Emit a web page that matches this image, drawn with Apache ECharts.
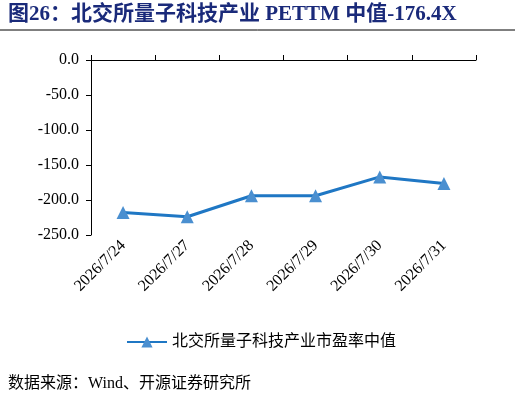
<!DOCTYPE html><html><head><meta charset="utf-8"><script src="https://cdn.jsdelivr.net/npm/echarts@6/dist/echarts.min.js"></script></head><body style="margin:0"><div id="c" style="width:522px;height:404px"></div><script>
const categories=['2026/7/24','2026/7/27','2026/7/28','2026/7/29','2026/7/30','2026/7/31'];
const values=[-218,-224,-194,-194,-167,-176.4];
const yTicks=[0,-50,-100,-150,-200,-250];
const ser="'Liberation Serif','Noto Sans CJK SC',serif";
const c=echarts.init(document.getElementById('c'));
c.setOption({animation:false,
graphic:[
{type:'text',left:8,top:4,style:{text:'图26：北交所量子科技产业 PETTM 中值-176.4X',font:"bold 21px 'Liberation Serif','Noto Sans CJK SC',serif",fill:'#1a2a7a'}},
{type:'line',shape:{x1:0,y1:30,x2:515,y2:30},style:{stroke:'#000',lineWidth:1}},
{type:'text',left:8,top:376,style:{text:'数据来源：Wind、开源证券研究所',font:"16px "+ser,fill:'#000'}}
],
grid:{left:91,right:46,top:60,bottom:169},
xAxis:[{type:'category',data:categories,position:'top',axisLine:{lineStyle:{color:'#000'}},axisTick:{show:true,interval:0,lineStyle:{color:'#000'}},axisLabel:{show:false}},
{type:'category',data:categories,position:'bottom',axisLine:{show:false},axisTick:{show:false},axisLabel:{rotate:45,interval:0,margin:8,color:'#000',fontFamily:ser,fontSize:16}}],
yAxis:{type:'value',min:-250,max:0,interval:50,axisLine:{show:true,lineStyle:{color:'#000'}},axisTick:{show:true,lineStyle:{color:'#000'}},splitLine:{show:false},axisLabel:{color:'#000',fontFamily:ser,fontSize:16,margin:12,formatter:v=>v.toFixed(1)}},
legend:{top:329,left:'center',itemWidth:40,itemHeight:14,textStyle:{fontFamily:ser,fontSize:16,color:'#000'},data:['北交所量子科技产业市盈率中值']},
series:[{name:'北交所量子科技产业市盈率中值',type:'line',data:values,xAxisIndex:0,symbol:'triangle',symbolSize:13,lineStyle:{color:'#1f77c4',width:3},itemStyle:{color:'#4a8fd0'}}]
});
</script></body></html>
